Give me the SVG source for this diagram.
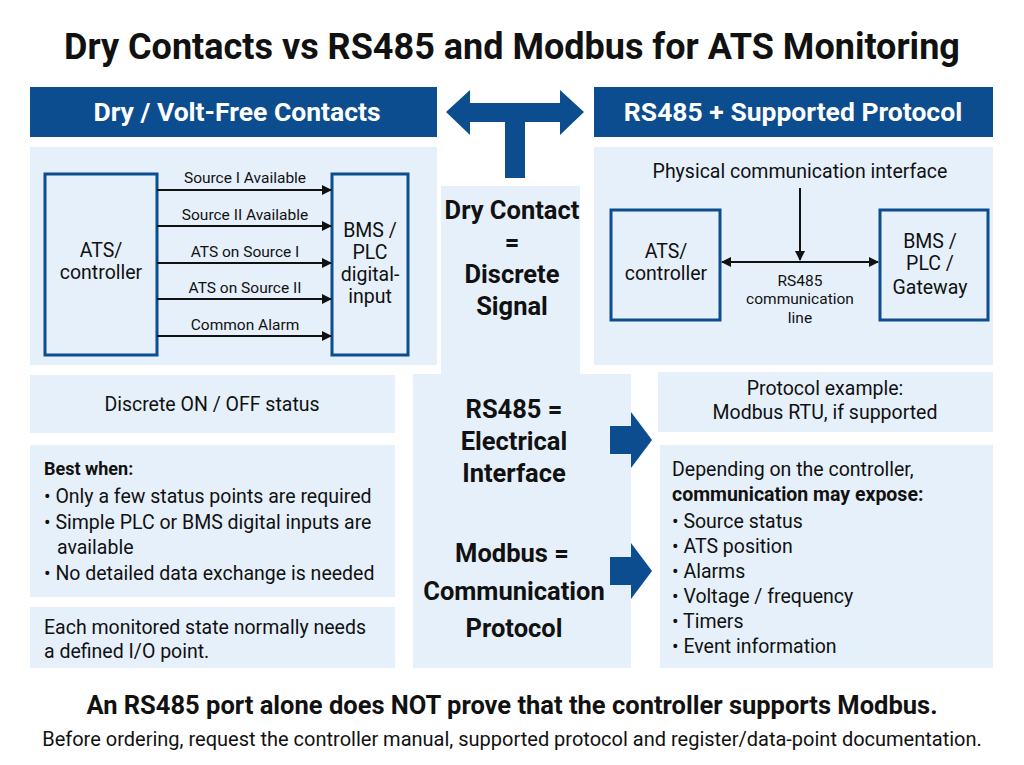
<svg xmlns="http://www.w3.org/2000/svg" width="1024" height="765" viewBox="0 0 1024 765">
<style>
text{font-family:Roboto,"Liberation Sans",sans-serif;fill:#111}
.hd{fill:#0b4d8f}
.hdt{fill:#fff;font-weight:bold;font-size:26.5px;text-anchor:middle}
.pn{fill:#e6f0fa}
.bx{fill:#e6f0fa;stroke:#0b4d8f;stroke-width:3}
.t{font-size:19.5px}
.c{text-anchor:middle}
.s{font-size:15.5px;text-anchor:middle}
.b{font-weight:bold}
.big{font-size:25.5px;font-weight:bold;text-anchor:middle}
.ln{stroke:#111;stroke-width:2;fill:none}
.blk{fill:#0b4d8f}
</style>
<defs>
<marker id="ah" viewBox="0 0 10 10" refX="9" refY="5" markerWidth="10" markerHeight="10" markerUnits="userSpaceOnUse" orient="auto-start-reverse"><path d="M0,0L10,5L0,10z" fill="#111"/></marker>
</defs>
<rect width="1024" height="765" fill="#fff"/>
<text x="512" y="59" class="c b" font-size="36">Dry Contacts vs RS485 and Modbus for ATS Monitoring</text>

<g id="hdr-left"><rect class="hd" x="30" y="87" width="407" height="50"/><text x="237" y="121" class="hdt">Dry / Volt-Free Contacts</text></g>
<g id="hdr-right"><rect class="hd" x="594" y="87" width="399" height="50"/><text x="793" y="121" class="hdt">RS485 + Supported Protocol</text></g>
<g id="t-arrow"><path class="blk" d="M505,178V122H470V135L446,112L470,90V103H560V90L584,112L560,135V122H525V178Z"/></g>

<g id="panel-left"><rect class="pn" x="30" y="147" width="407" height="218"/></g>
<g id="ats-left"><rect class="bx" x="45" y="174" width="112" height="181"/><text x="101" y="257" class="t c">ATS/</text><text x="101" y="279" class="t c">controller</text></g>
<g id="bms-left"><rect class="bx" x="332" y="174" width="76" height="181"/><text x="370" y="237" class="t c">BMS /</text><text x="370" y="259" class="t c">PLC</text><text x="370" y="281" class="t c">digital-</text><text x="370" y="303" class="t c">input</text></g>

<g id="panel-dry"><rect class="pn" x="441" y="186" width="139" height="190"/><text x="512" y="219" class="big">Dry Contact</text><text x="512" y="251" class="big">=</text><text x="512" y="283" class="big">Discrete</text><text x="512" y="315" class="big">Signal</text></g>

<g id="panel-right"><rect class="pn" x="594" y="147" width="399" height="218"/><text x="800" y="178" class="t c">Physical communication interface</text></g>
<g id="ats-right"><rect class="bx" x="611" y="210" width="109" height="110"/><text x="666" y="258" class="t c">ATS/</text><text x="666" y="280" class="t c">controller</text></g>
<g id="bms-right"><rect class="bx" x="880" y="210" width="108" height="110"/><text x="930" y="248" class="t c">BMS /</text><text x="930" y="270" class="t c">PLC /</text><text x="930" y="294" class="t c">Gateway</text></g>

<g id="discrete"><rect class="pn" x="30" y="375" width="365" height="58"/><text x="212" y="411" class="t c">Discrete ON / OFF status</text></g>
<g id="best"><rect class="pn" x="30" y="445" width="365" height="152"/>
<text x="44" y="475" class="b" font-size="18">Best when:</text>
<text x="44" y="503" class="t">•  Only a few status points are required</text>
<text x="44" y="529" class="t">•  Simple PLC or BMS digital inputs are</text>
<text x="57" y="554" class="t">available</text>
<text x="44" y="580" class="t">•  No detailed data exchange is needed</text></g>
<g id="each"><rect class="pn" x="30" y="607" width="365" height="61"/><text x="44" y="634" class="t">Each monitored state normally needs</text><text x="44" y="658" class="t">a defined I/O point.</text></g>

<g id="panel-mid"><rect class="pn" x="413" y="374" width="218" height="294"/>
<text x="514" y="418" class="big">RS485 =</text><text x="514" y="450" class="big">Electrical</text><text x="514" y="482" class="big">Interface</text>
<text x="512" y="562" class="big">Modbus =</text><text x="514" y="600" class="big">Communication</text><text x="514" y="637" class="big">Protocol</text></g>

<g id="protocol"><rect class="pn" x="658" y="372" width="335" height="60"/><text x="825" y="395" class="t c">Protocol example:</text><text x="825" y="419" class="t c">Modbus RTU, if supported</text></g>
<g id="depending"><rect class="pn" x="660" y="445" width="333" height="223"/>
<text x="672" y="476" class="t">Depending on the controller,</text>
<text x="672" y="501" class="t b">communication may expose:</text>
<text x="672" y="528" class="t">•  Source status</text>
<text x="672" y="553" class="t">•  ATS position</text>
<text x="672" y="578" class="t">•  Alarms</text>
<text x="672" y="603" class="t">•  Voltage / frequency</text>
<text x="672" y="628" class="t">•  Timers</text>
<text x="672" y="653" class="t">•  Event information</text></g>

<g id="connectors">
<line class="ln" x1="157" y1="190" x2="331" y2="190" marker-end="url(#ah)"/>
<line class="ln" x1="157" y1="226" x2="331" y2="226" marker-end="url(#ah)"/>
<line class="ln" x1="157" y1="263" x2="331" y2="263" marker-end="url(#ah)"/>
<line class="ln" x1="157" y1="299" x2="331" y2="299" marker-end="url(#ah)"/>
<line class="ln" x1="157" y1="336" x2="331" y2="336" marker-end="url(#ah)"/>
<line class="ln" x1="722" y1="262" x2="878" y2="262" marker-start="url(#ah)" marker-end="url(#ah)" stroke-width="3"/>
<line class="ln" x1="800" y1="188" x2="800" y2="260" stroke-width="1.5" marker-end="url(#ah)"/>
<path class="blk" d="M610,426H631V412L652,440L631,468V454H610Z"/>
<path class="blk" d="M610,557H631V543L652,571L631,599V585H610Z"/>
</g>
<g id="conn-labels">
<text x="245" y="183" class="s">Source I Available</text>
<text x="245" y="220" class="s">Source II Available</text>
<text x="245" y="257" class="s">ATS on Source I</text>
<text x="245" y="293" class="s">ATS on Source II</text>
<text x="245" y="330" class="s">Common Alarm</text>
<text x="800" y="286" class="s">RS485</text>
<text x="800" y="304" class="s">communication</text>
<text x="800" y="323" class="s">line</text>
</g>

<text x="512" y="714" class="c b" font-size="25.5">An RS485 port alone does NOT prove that the controller supports Modbus.</text>
<text x="512" y="746" class="c" font-size="20">Before ordering, request the controller manual, supported protocol and register/data-point documentation.</text>
</svg>
